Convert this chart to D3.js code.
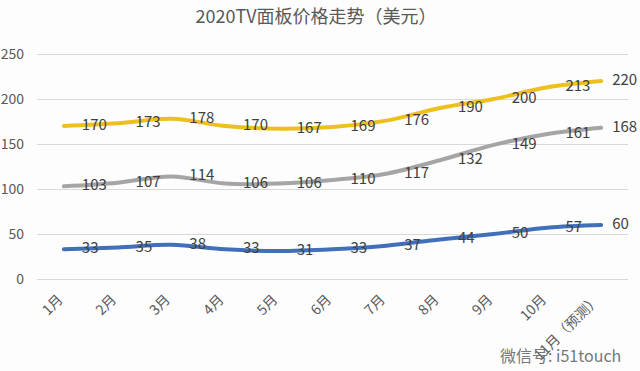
<!DOCTYPE html>
<html><head><meta charset="utf-8">
<script src="https://cdn.jsdelivr.net/npm/d3@7"></script>
<style>body{margin:0;background:#fdfdfe;} svg{display:block;} text{font-family:"Noto Sans CJK SC","Noto Sans",sans-serif;}</style>
</head><body>
<script>
const title = "2020TV面板价格走势（美元）";
const months = ["1月","2月","3月","4月","5月","6月","7月","8月","9月","10月","11月（预测）"];
const series55 = [170,173,178,170,167,169,176,190,200,213,220];
const series43 = [103,107,114,106,106,110,117,132,149,161,168];
const series32 = [33,35,38,33,31,33,37,44,50,57,60];
const yTicks = [0,50,100,150,200,250];
const seriesColors = ["#EDC01E","#A5A5A5","#4170BA"];

const W=640,H=371;
const svg=d3.select("body").append("svg").attr("width",W).attr("height",H);
svg.append("rect").attr("width",W).attr("height",H).attr("fill","#fdfdfe");

const x=d3.scaleBand().domain(months).range([37,628]);
const y=d3.scaleLinear().domain([0,250]).range([279,54]);
const cx=d=>x(d)+x.bandwidth()/2;

svg.append("text").attr("x",316).attr("y",18).attr("text-anchor","middle")
  .attr("dominant-baseline","middle").attr("font-size",18).attr("fill","#595959").text(title);

const yAxis=svg.append("g").attr("transform","translate(37,0)")
  .call(d3.axisLeft(y).tickValues(yTicks).tickSize(-591).tickPadding(13));
yAxis.select(".domain").remove();
yAxis.selectAll(".tick line").attr("stroke","#d9d9d9").attr("stroke-width",1);
yAxis.selectAll(".tick text").attr("font-size",14).attr("fill","#595959").attr("font-family","\"Noto Sans CJK SC\",sans-serif");

svg.append("g").selectAll("text").data(months).join("text")
  .attr("transform",d=>`translate(${cx(d)-3},298) rotate(-45)`)
  .attr("text-anchor","end").attr("dominant-baseline","middle")
  .attr("font-size",14).attr("fill","#595959").text(d=>d);

const line=d3.line().x((d,i)=>cx(months[i])).y(d=>y(d)).curve(d3.curveCatmullRom.alpha(0));
[series55,series43,series32].forEach((s,k)=>{
  svg.append("path").datum(s).attr("d",line).attr("fill","none")
    .attr("stroke",seriesColors[k]).attr("stroke-width",4).attr("stroke-linecap","round");
});
[series55,series43,series32].forEach(s=>{
  svg.append("g").selectAll("text").data(s).join("text")
    .attr("x",(d,i)=>cx(months[i])+(i===s.length-1?11:18))
    .attr("y",d=>y(d)).attr("dominant-baseline","middle")
    .attr("font-size",15).attr("fill","#404040").text(d=>d);
});

// watermark text
svg.append("text").attr("x",500).attr("y",362).attr("font-size",16).attr("fill","#777").text("微信号: i51touch");
</script>
</body></html>
